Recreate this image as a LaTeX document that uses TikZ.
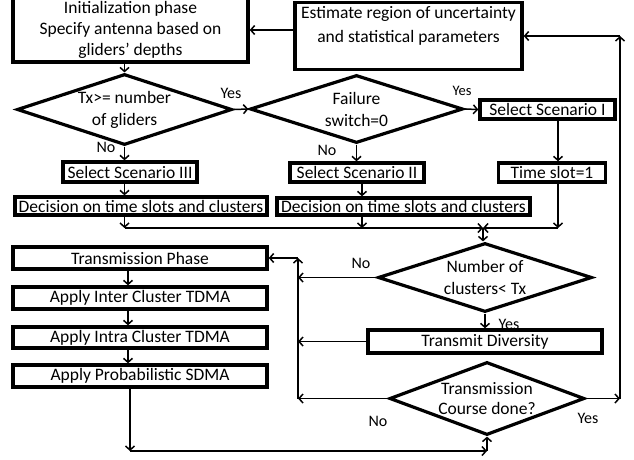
\documentclass[tikz,border=0pt]{standalone}
\usepackage{fontspec}
\setmainfont{Carlito}
\usetikzlibrary{shapes.geometric,arrows.meta}
\begin{document}
\begin{tikzpicture}[x=1pt,y=-1pt,
  box/.style={draw,line width=3.4pt,inner sep=0pt,align=center,font=\fontsize{17.5}{20}\selectfont},
  dia/.style={draw,diamond,line width=3.2pt,inner sep=0pt},
  dtxt/.style={align=center,inner sep=0pt,font=\fontsize{17.5}{22}\selectfont},
  arr/.style={line width=1.5pt,-{Straight Barb[length=4pt,width=9pt]}},
  lbl/.style={font=\fontsize{16}{18}\selectfont,inner sep=0pt}]
\useasboundingbox (0,0) rectangle (634,459);
% columns
\coordinate (colA) at (558,0);
\coordinate (colB) at (362,0);
\coordinate (colL) at (128,0);
\coordinate (colS) at (130,0);
\coordinate (vl) at (298,0);
\coordinate (vr) at (620,0);
\coordinate (m) at (483,228);
\coordinate (bot) at (0,451);
% top
\node[box,minimum width=235pt,minimum height=64pt,font=\fontsize{17.5}{21}\selectfont] (init) at (130.5,30) {Initialization phase\\Specify antenna based on\\gliders’ depths};
\node[box,minimum width=227pt,minimum height=67pt,font=\fontsize{17.5}{24}\selectfont] (est) at (408.5,36) {Estimate region of uncertainty\\and statistical parameters\\\mbox{}};
\node[dia,minimum width=215pt,minimum height=71pt,label={[dtxt]center:{Tx>= number\\of gliders}}] (d1) at (124.5,109.5) {};
\node[dia,minimum width=213pt,minimum height=68pt,label={[dtxt]center:{Failure\\switch=0}}] (d2) at (356.5,109) {};
\node[box,minimum width=135pt,minimum height=19pt] (s1) at (547.5,109.5) {Select Scenario I};
\node[box,minimum width=107pt,minimum height=19pt] (ts) at (552,172.5) {Time slot=1};
\node[box,minimum width=134pt,minimum height=19pt] (s2) at (357,172.5) {Select Scenario II};
\node[box,minimum width=134pt,minimum height=20pt] (s3) at (130,172) {Select Scenario III};
\node[box,minimum width=252pt,minimum height=18pt] (dec1) at (141,206) {Decision on time slots and clusters};
\node[box,minimum width=253pt,minimum height=17pt] (dec2) at (403.5,206.5) {Decision on time slots and clusters};
% lower right
\node[dia,minimum width=214pt,minimum height=69pt,label={[dtxt]center:{Number of\\clusters< Tx}}] (d3) at (485,277.5) {};
\node[lbl] at (509,324) {Yes};
\node[box,fill=white,minimum width=234pt,minimum height=23pt] (td) at (485,341.5) {Transmit Diversity};
\node[dia,minimum width=195pt,minimum height=73pt,label={[dtxt,font=\fontsize{17.5}{20}\selectfont]center:{Transmission\\Course done?}}] (d4) at (487,398.5) {};
% left column
\node[box,minimum width=254pt,minimum height=22pt] (tp) at (140,258) {Transmission Phase};
\node[box,minimum width=254pt,minimum height=22pt] (inter) at (140,298) {Apply Inter Cluster TDMA};
\node[box,minimum width=254pt,minimum height=21pt] (intra) at (140,337.5) {Apply Intra Cluster TDMA};
\node[box,minimum width=254pt,minimum height=22pt] (sdma) at (140,376) {Apply Probabilistic SDMA};
% labels
\node[lbl] at (231,93) {Yes};
\node[lbl,font=\fontsize{14.5}{16}\selectfont] at (462,91) {Yes};
\node[lbl] at (106,147) {No};
\node[lbl] at (327,150) {No};
\node[lbl] at (361,263) {No};
\node[lbl] at (378,421) {No};
\node[lbl] at (588,418) {Yes};
% connectors
\draw[arr] (est.west |- init.east) -- (init.east);
\draw[arr] (init.south -| d1.north) -- (d1.north);
\draw[arr] (d1.east) -- (d2.west);
\draw[arr] (d2.east) -- (s1.west);
\draw[arr] (s1.south -| colA) -- (ts.north -| colA);
\draw[arr] (ts.south -| colA) -- (colA |- m);
\draw[arr] (colA |- m) -- (m);
\draw[arr] (d1.south) -- (s3.north -| d1.south);
\draw[arr] (s3.south -| d1.south) -- (dec1.north -| d1.south);
\draw[arr] (dec1.south -| d1.south) -- (d1.south |- m);
\draw[arr] (d1.south |- m) -- (m);
\draw[arr] (d2.south) -- (s2.north -| d2.south);
\draw[arr] (s2.south -| colB) -- (dec2.north -| colB);
\draw[arr] (dec2.south -| colB) -- (colB |- m);
\draw[arr] (m) -- (d3.north -| m);
\draw[arr] (d3.west) -- (vl |- d3.west);
\draw[arr] (d3.south) -- (td.north);
\draw[arr] (td.west) -- (vl |- td.west);
\draw[arr] (d4.west) -- (vl |- d4.west);
\draw[arr] (vl |- d4.west) -- (vl |- tp.east);
\draw[arr] (vl |- tp.east) -- (tp.east);
\draw[arr] (d4.east) -- (vr |- d4.east);
\draw[arr] (vr |- d4.east) -- (vr |- est.east);
\draw[arr] (vr |- est.east) -- (est.east);
\draw[arr] (tp.south -| colL) -- (inter.north -| colL);
\draw[arr] (inter.south -| colL) -- (intra.north -| colL);
\draw[arr] (intra.south -| colL) -- (sdma.north -| colL);
\draw[arr] (sdma.south -| colS) -- (colS |- bot);
\draw[arr] (colS |- bot) -- (d4.south |- bot);
\draw[arr] (d4.south |- bot) -- (d4.south);
\end{tikzpicture}
\end{document}
